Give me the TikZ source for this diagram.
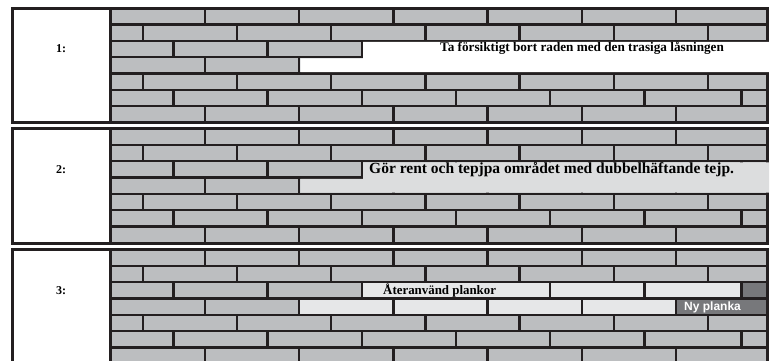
\documentclass[tikz,border=0pt]{standalone}
\usepackage{fontspec}
\setmainfont{Liberation Serif}
\setsansfont{Liberation Sans}

\definecolor{mortar}{HTML}{231F20}
\definecolor{brick}{HTML}{BCBEC0}
\definecolor{tape}{HTML}{DCDDDE}
\definecolor{reuse}{HTML}{E6E7E8}
\definecolor{newbrick}{HTML}{77787B}

% one step: brick wall with a label box, #1 = top, #2 = number
\newcommand{\wallpanel}[2]{%
\begin{scope}[shift={(0,#1)}]
  \fill[brick] (110.5,0) rectangle (767.5,114.5);
  \foreach \r in {1,...,6} \draw[joint] (110.5,{\r*16.357}) -- (767.5,{\r*16.357});
  \foreach \r in {0,3,6} \foreach \x in {205,299.2,393.4,487.6,581.8,676}
    \draw[joint] (\x,{\r*16.357}) -- (\x,{(\r+1)*16.357});
  \foreach \r in {1,4} \foreach \x in {142.7,236.9,331.1,425.3,519.5,613.7,707.9}
    \draw[joint] (\x,{\r*16.357}) -- (\x,{(\r+1)*16.357});
  \foreach \r in {2,5} \foreach \x in {173.3,267.4,361.8,456,550,644.3,741.5}
    \draw[joint] (\x,{\r*16.357}) -- (\x,{(\r+1)*16.357});
  \draw[frame] (12,0) rectangle (767.5,114.5);
  \draw[frame] (110.5,0) -- (110.5,114.5);
  \node[lbl] (num#2) at (61,44.7) {#2:};
\end{scope}}

\begin{document}
\begin{tikzpicture}[x=1pt, y=-1pt,
  joint/.style={mortar,line width=2.4pt},
  frame/.style={mortar,line width=3pt},
  lbl/.style={anchor=base,inner sep=0pt,font=\fontsize{12}{14}\selectfont\bfseries},
  note/.style={anchor=base west,inner sep=0pt,font=\fontsize{13.2}{15}\selectfont\bfseries}]
\clip (0,0) rectangle (776,360);
\fill[white] (0,0) rectangle (776,360);

% step 1
\wallpanel{8}{1}
\begin{scope}[shift={(0,8)}]
  \fill[white] (363,33.91) -- (769.2,33.91) -- (769.2,64.23) -- (300.4,64.23) -- (300.4,50.27) -- (363,50.27) -- cycle;
  \node[note] (remove) at (440,43.7) {Ta försiktigt bort raden med den trasiga låsningen};
\end{scope}

% step 2
\wallpanel{128.5}{2}
\begin{scope}[shift={(0,128.5)}]
  \fill[tape] (363,33.91) -- (769.2,33.91) -- (769.2,64.23) -- (300.4,64.23) -- (300.4,50.27) -- (363,50.27) -- cycle;
  \node[note,font=\fontsize{15.5}{18}\selectfont\bfseries] (clean) at (369,44.8) {Gör rent och tepjpa området med dubbelhäftande tejp.};
\end{scope}

% step 3
\wallpanel{249.5}{3}
\begin{scope}[shift={(0,249.5)}]
  \fill[reuse] (363,33.91) rectangle (548.8,47.87);
  \fill[reuse] (551.2,33.91) rectangle (643.1,47.87);
  \fill[reuse] (645.5,33.91) rectangle (740.3,47.87);
  \fill[newbrick] (742.7,33.91) rectangle (766,47.87);
  \fill[reuse] (300.4,50.27) rectangle (392.2,64.23);
  \fill[reuse] (394.6,50.27) rectangle (486.4,64.23);
  \fill[reuse] (488.8,50.27) rectangle (580.6,64.23);
  \fill[reuse] (583,50.27) rectangle (674.8,64.23);
  \fill[newbrick] (677.2,50.27) rectangle (766,64.23);
  \node[note,font=\fontsize{12.9}{15}\selectfont\bfseries] (reused) at (383,44.8) {Återanvänd plankor};
  \node[note,text=white,font=\fontsize{12}{14}\selectfont\sffamily\bfseries] (newplank) at (684,61.2) {Ny planka};
\end{scope}
\end{tikzpicture}
\end{document}
